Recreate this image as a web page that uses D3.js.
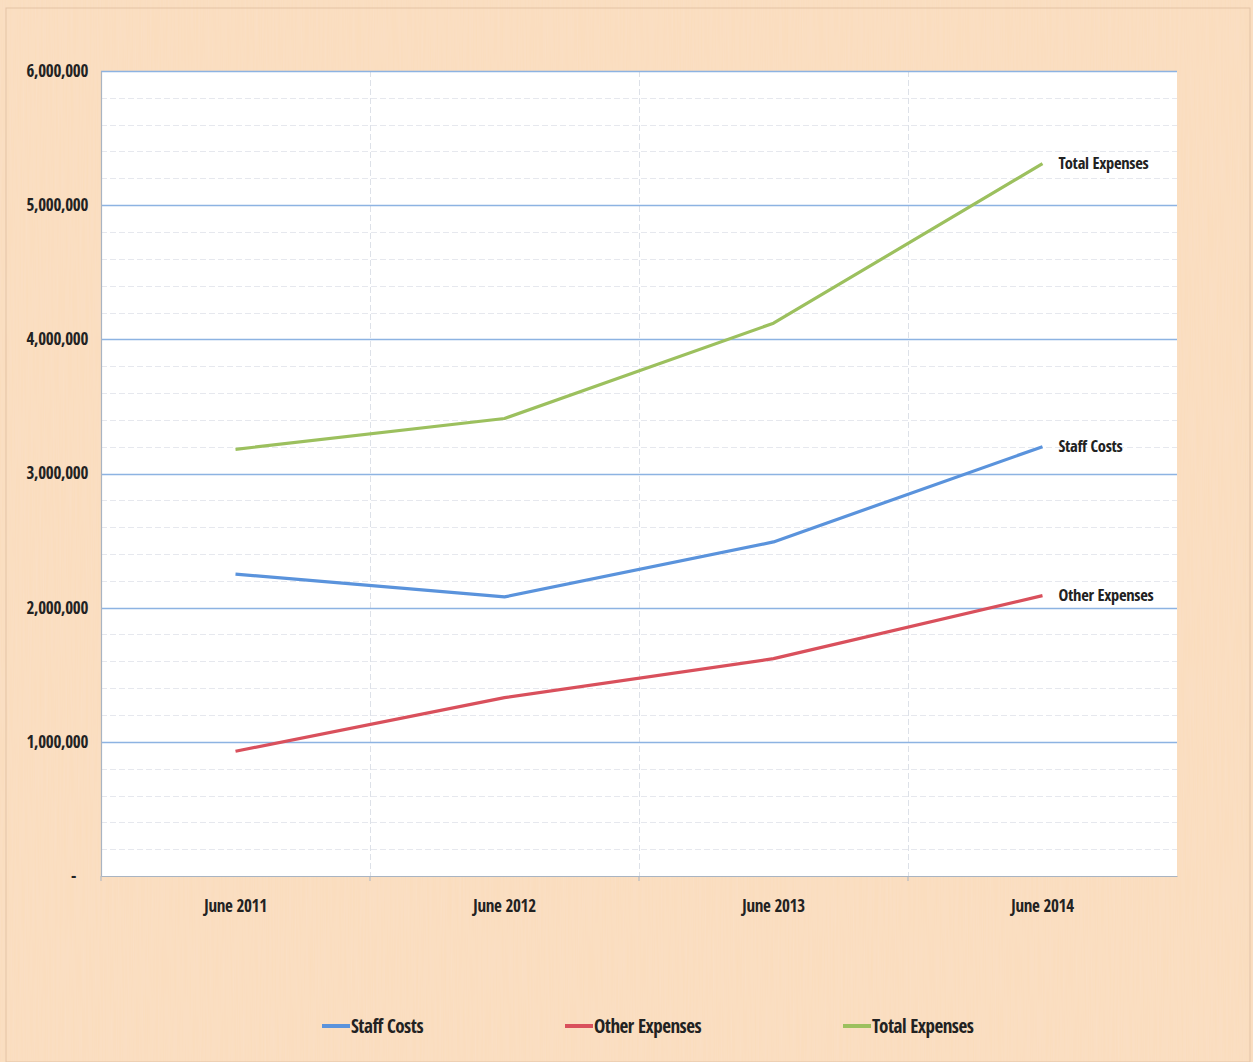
<!DOCTYPE html>
<html><head><meta charset="utf-8">
<script src="https://cdn.jsdelivr.net/npm/d3@7"></script>
<style>
html,body{margin:0;padding:0;background:#f7d8b6;}
svg{display:block;}
text{font-family:"Liberation Sans Narrow","Open Sans Condensed","DejaVu Sans Condensed",sans-serif;font-weight:bold;fill:#222;}
</style></head>
<body>
<script>
const categories = ["June 2011","June 2012","June 2013","June 2014"];
const staffCosts = [2250000, 2080000, 2490000, 3200000];
const otherExpenses = [930000, 1330000, 1620000, 2090000];
const totalExpenses = [3180000, 3410000, 4120000, 5310000];
const seriesNames = ["Staff Costs","Other Expenses","Total Expenses"];
const seriesColors = ["#5a93dc","#d9505c","#9cc05e"];
const yTicks = [0,1000000,2000000,3000000,4000000,5000000,6000000];

const W=1253,H=1062;
const m={left:101,right:1177,top:71,bottom:876};
const svg=d3.select("body").append("svg").attr("width",W).attr("height",H);
const defs=svg.append("defs");
const f=defs.append("filter").attr("id","tex").attr("x",0).attr("y",0).attr("width","100%").attr("height","100%");
f.append("feTurbulence").attr("type","fractalNoise").attr("baseFrequency","0.6 0.015").attr("numOctaves",2).attr("seed",3).attr("result","n");
f.append("feColorMatrix").attr("in","n").attr("type","matrix")
 .attr("values","0 0 0 0 0.96  0 0 0 0 0.76  0 0 0 0 0.62  0 0 0 0.55 0");
svg.append("rect").attr("width",W).attr("height",H).attr("fill","#fadcbb");
svg.append("rect").attr("width",W).attr("height",H).attr("filter","url(#tex)");
svg.append("rect").attr("x",6).attr("y",8).attr("width",W-9).attr("height",H-8).attr("fill","none").attr("stroke","#e3c3a6").attr("stroke-width",1);

const x=d3.scaleBand().domain(categories).range([m.left,m.right]);
const y=d3.scaleLinear().domain([0,6000000]).range([m.bottom,m.top]);

svg.append("rect").attr("x",m.left).attr("y",m.top).attr("width",m.right-m.left).attr("height",m.bottom-m.top).attr("fill","#fff");

// minor gridlines
const minor=d3.range(0,6000001,200000).filter(v=>v%1000000!==0);
svg.append("g").selectAll("line").data(minor).join("line")
 .attr("x1",m.left).attr("x2",m.right).attr("y1",d=>Math.round(y(d))+0.5).attr("y2",d=>Math.round(y(d))+0.5)
 .attr("stroke","#e6e8ee").attr("stroke-width",1).attr("stroke-dasharray","6,3");
// vertical gridlines at band boundaries
svg.append("g").selectAll("line").data(categories.slice(1)).join("line")
 .attr("x1",d=>Math.round(x(d))+0.5).attr("x2",d=>Math.round(x(d))+0.5).attr("y1",m.top).attr("y2",m.bottom)
 .attr("stroke","#dde1e8").attr("stroke-width",1).attr("stroke-dasharray","6,3");
// major gridlines
svg.append("g").selectAll("line").data(yTicks.filter(d=>d>0)).join("line")
 .attr("x1",m.left).attr("x2",m.right).attr("y1",d=>Math.round(y(d))+0.5).attr("y2",d=>Math.round(y(d))+0.5)
 .attr("stroke","#8db3e2").attr("stroke-width",1.3);

// axes
const yAxis=d3.axisLeft(y).tickValues(yTicks).tickSize(0).tickPadding(13)
 .tickFormat(d=>d===0?"-":d3.format(",")(d));
const gy=svg.append("g").attr("transform",`translate(${m.left},0)`).call(yAxis);
gy.select(".domain").attr("stroke","#a9b4c2").attr("stroke-width",1.2);
gy.selectAll("text").style("font-size","17px").attr("letter-spacing","-0.3").attr("fill","#222");
gy.selectAll(".tick").filter(d=>d===0).select("text").attr("dx","-12");

const xAxis=d3.axisBottom(x).tickSize(0).tickPadding(24);
const gx=svg.append("g").attr("transform",`translate(0,${m.bottom})`).call(xAxis);
gx.select(".domain").attr("stroke","#a9b4c2").attr("stroke-width",1.2);
gx.selectAll("text").style("font-size","17px").attr("letter-spacing","-0.3").attr("fill","#222");
// small tick marks at band boundaries
svg.append("g").selectAll("line").data(categories).join("line")
 .attr("x1",d=>x(d)).attr("x2",d=>x(d)).attr("y1",m.bottom).attr("y2",m.bottom+5).attr("stroke","#a9b4c2");

const series=[staffCosts,otherExpenses,totalExpenses];
const line=d3.line().x((d,i)=>x(categories[i])+x.bandwidth()/2).y(d=>y(d));
series.forEach((s,k)=>{
  svg.append("path").datum(s).attr("d",line).attr("fill","none")
   .attr("stroke",seriesColors[k]).attr("stroke-width",3.2).attr("stroke-linejoin","round");
  const last=s[s.length-1];
  svg.append("text").attr("x",x(categories[3])+x.bandwidth()/2+16).attr("y",y(last)).attr("dy","0.35em")
   .style("font-size","16.5px").attr("letter-spacing","-0.3").text(seriesNames[k]);
});

// legend
const legX=[322,565,843];
seriesNames.forEach((n,k)=>{
  const g=svg.append("g").attr("transform",`translate(${legX[k]},1026)`);
  g.append("line").attr("x1",0).attr("x2",28).attr("stroke",seriesColors[k]).attr("stroke-width",4);
  g.append("text").attr("x",29).attr("dy","0.35em").style("font-size","19px").attr("letter-spacing","-0.5").text(n);
});
</script>
</body></html>
